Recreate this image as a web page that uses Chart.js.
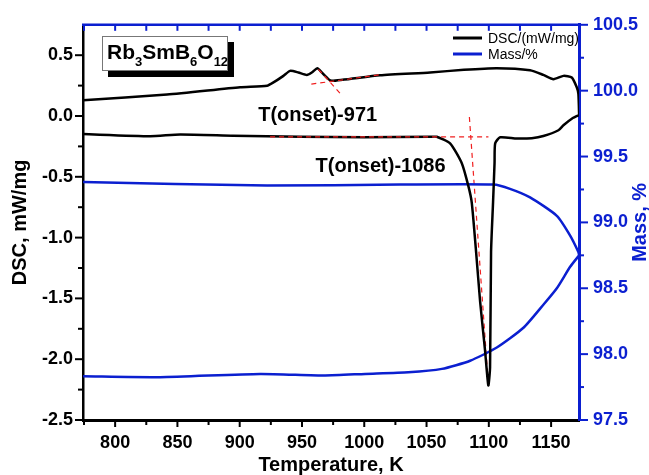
<!DOCTYPE html>
<html>
<head>
<meta charset="utf-8">
<script src="https://cdn.jsdelivr.net/npm/chart.js@4/dist/chart.umd.min.js"></script>
<style>
  html, body { margin: 0; padding: 0; background: #fff; }
</style>
</head>
<body>
<canvas id="chart" width="649" height="475"></canvas>
<script>
// DSC, heating branch (upper trace), temperature in K / mW/mg
const dscHeatT = [774.3, 841.7, 900.3, 922.0, 927.1, 935.1, 940.5, 947.1, 953.9, 957.9, 962.4, 965.9, 971.2, 974.0, 1012.7, 1052.9, 1080.0, 1106.4, 1133.1, 1143.8, 1151.9, 1159.9, 1166.6, 1170.6, 1171.9, 1172.5];
const dscHeat  = [0.130, 0.176, 0.236, 0.249, 0.276, 0.330, 0.371, 0.358, 0.338, 0.358, 0.393, 0.358, 0.303, 0.289, 0.335, 0.358, 0.380, 0.393, 0.376, 0.338, 0.303, 0.330, 0.317, 0.236, 0.181, 0.005];
// DSC, cooling branch (lower trace with the crystallisation peak)
const dscCoolT = [1171.9, 1166.6, 1159.9, 1155.9, 1143.8, 1134.5, 1122.5, 1109.1, 1105.1, 1104.6, 1103.4, 1101.8, 1101.0, 1099.6, 1097.0, 1093.0, 1089.8, 1086.3, 1083.6, 1078.3, 1068.9, 1058.2, 1052.9, 1000.0, 948.5, 894.7, 852.2, 828.1, 774.3];
const dscCool  = [0.005, -0.022, -0.076, -0.117, -0.165, -0.182, -0.185, -0.175, -0.225, -0.387, -0.710, -1.119, -2.067, -2.216, -1.931, -1.525, -1.119, -0.712, -0.577, -0.388, -0.225, -0.171, -0.171, -0.175, -0.171, -0.162, -0.152, -0.166, -0.149];
// Mass, %
const massHeatT = [774.3, 922.0, 1028.8, 1103.7, 1117.0, 1133.1, 1154.6, 1165.3, 1171.9, 1172.5];
const massHeat  = [99.307, 99.280, 99.287, 99.287, 99.255, 99.190, 99.050, 98.900, 98.775, 98.750];
const massCoolT = [1172.5, 1165.3, 1154.6, 1143.8, 1127.8, 1106.4, 1085.0, 1062.3, 1035.4, 1000.7, 968.6, 916.4, 836.1, 774.3];
const massCool  = [98.750, 98.663, 98.500, 98.375, 98.200, 98.050, 97.950, 97.888, 97.862, 97.850, 97.838, 97.850, 97.825, 97.832];

// onset construction lines (red dashed)
const onset971BaseT = [957.5, 1013.0];
const onset971Base  = [0.262, 0.340];
const onset971TanT  = [963.2, 980.6];
const onset971Tan   = [0.384, 0.187];
const onset1086BaseT = [924.4, 1099.7];
const onset1086Base  = [-0.171, -0.171];
const onset1086TanT  = [1084.4, 1099.7];
const onset1086Tan   = [-0.008, -2.216];

// axes ticks
const xTicks  = [775, 800, 825, 850, 875, 900, 925, 950, 975, 1000, 1025, 1050, 1075, 1100, 1125, 1150];
const yTicks  = [-2.5, -2.25, -2.0, -1.75, -1.5, -1.25, -1.0, -0.75, -0.5, -0.25, 0.0, 0.25, 0.5];
const y2Ticks = [97.5, 97.75, 98.0, 98.25, 98.5, 98.75, 99.0, 99.25, 99.5, 99.75, 100.0, 100.25, 100.5];

const seriesNames = ['DSC/(mW/mg)', 'Mass/%'];
const onsetLabels = [
  { text: 'T(onset)-971',  x: 962.6,  y: 0.003 },
  { text: 'T(onset)-1086', x: 1013.1, y: -0.414 }
];

const BLUE = '#0b1fd0';
const RED = '#f02020';
const FF = '"Liberation Sans", Arial, sans-serif';

const pts = (xs, ys) => xs.map((v, i) => ({ x: v, y: ys[i] }));
const isHalf = v => Math.abs(v * 2 - Math.round(v * 2)) < 1e-6;

const dashed = (xs, ys) => ({
  data: pts(xs, ys), yAxisID: 'y', showLine: true, borderColor: RED, borderWidth: 1.2,
  borderDash: [5, 4], pointRadius: 0, tension: 0
});

const decor = {
  id: 'decor',
  afterDraw(chart) {
    const { ctx, chartArea: a, scales: { x, y, y2 } } = chart;
    const line = (x1, y1, x2, yb) => { ctx.beginPath(); ctx.moveTo(x1, y1); ctx.lineTo(x2, yb); ctx.stroke(); };
    ctx.save();

    // top axis, blue, ticks inward
    ctx.strokeStyle = BLUE; ctx.lineWidth = 2.5;
    line(a.left - 1, a.top, a.right + 1, a.top);
    ctx.lineWidth = 2;
    xTicks.forEach(v => { const p = x.getPixelForValue(v); line(p, a.top, p, a.top + 6); });

    // bottom ticks
    ctx.strokeStyle = '#000';
    xTicks.forEach(v => { const p = x.getPixelForValue(v); line(p, a.bottom, p, a.bottom + (v % 50 === 0 ? 7 : 5)); });
    // left ticks
    yTicks.forEach(v => { const p = y.getPixelForValue(v); line(a.left, p, a.left - (isHalf(v) ? 8 : 5), p); });
    // right ticks
    ctx.strokeStyle = BLUE;
    y2Ticks.forEach(v => { const p = y2.getPixelForValue(v); line(a.right, p, a.right + (isHalf(v) ? 9 : 5), p); });

    // right axis title, reading bottom to top
    ctx.save();
    ctx.translate(640, (a.top + a.bottom) / 2);
    ctx.rotate(-Math.PI / 2);
    ctx.fillStyle = BLUE;
    ctx.font = 'bold 20px ' + FF;
    ctx.textAlign = 'center'; ctx.textBaseline = 'middle';
    ctx.fillText('Mass, %', 0, 0);
    ctx.restore();

    // legend
    const colors = ['#000', BLUE];
    ctx.font = '14px ' + FF;
    ctx.textAlign = 'left'; ctx.textBaseline = 'middle';
    seriesNames.forEach((n, i) => {
      const ly = 38 + i * 16;
      ctx.strokeStyle = colors[i]; ctx.lineWidth = 3;
      line(453, ly, 482, ly);
      ctx.fillStyle = '#000';
      ctx.fillText(n, 488, ly + 1);
    });

    // compound label box with shadow
    ctx.fillStyle = '#000';
    ctx.fillRect(108, 42, 126, 35);
    ctx.fillStyle = '#fff';
    ctx.fillRect(102, 36, 126, 35);
    ctx.strokeStyle = '#777'; ctx.lineWidth = 1;
    ctx.strokeRect(102.5, 36.5, 125, 34);
    const parts = [['Rb', 0], ['3', 1], ['Sm', 0], ['B', 0], ['6', 1], ['O', 0], ['12', 1]];
    let tx = 107;
    ctx.fillStyle = '#000';
    ctx.textBaseline = 'alphabetic';
    parts.forEach(([t, sub]) => {
      ctx.font = 'bold ' + (sub ? 13 : 21) + 'px ' + FF;
      ctx.fillText(t, tx, sub ? 66 : 59);
      tx += ctx.measureText(t).width;
    });

    // onset labels
    ctx.font = 'bold 20px ' + FF;
    ctx.textAlign = 'center'; ctx.textBaseline = 'middle';
    onsetLabels.forEach(l => ctx.fillText(l.text, x.getPixelForValue(l.x), y.getPixelForValue(l.y)));

    ctx.restore();
  }
};

new Chart(document.getElementById('chart'), {
  type: 'scatter',
  data: {
    datasets: [
      dashed(onset971BaseT, onset971Base),
      dashed(onset971TanT, onset971Tan),
      dashed(onset1086BaseT, onset1086Base),
      {
        label: seriesNames[0], yAxisID: 'y', showLine: true,
        data: pts(dscHeatT.concat(dscCoolT), dscHeat.concat(dscCool)),
        borderColor: '#000', borderWidth: 2.5, pointRadius: 0, tension: 0.2
      },
      {
        label: seriesNames[1], yAxisID: 'y2', showLine: true,
        data: pts(massHeatT.concat(massCoolT), massHeat.concat(massCool)),
        borderColor: BLUE, borderWidth: 2.5, pointRadius: 0, tension: 0.2
      },
      dashed(onset1086TanT, onset1086Tan)
    ]
  },
  options: {
    responsive: false,
    animation: false,
    layout: { padding: { top: 20, left: 0, right: 0, bottom: 0 } },
    plugins: { legend: { display: false }, tooltip: { enabled: false } },
    scales: {
      x: {
        type: 'linear', position: 'bottom', min: 774.2, max: 1172.4,
        afterBuildTicks: s => { s.ticks = xTicks.map(v => ({ value: v })); },
        afterFit: s => { s.height = 55; },
        grid: { display: false, drawTicks: false },
        border: { display: true, color: '#000', width: 3 },
        ticks: {
          autoSkip: false, maxRotation: 0, padding: 12, color: '#000',
          font: { family: FF, size: 18, weight: 'bold' },
          callback: v => (v % 50 === 0 ? String(v) : '')
        },
        title: {
          display: true, text: 'Temperature, K', color: '#000',
          font: { family: FF, size: 20, weight: 'bold', lineHeight: 1 }, padding: 0
        }
      },
      y: {
        type: 'linear', position: 'left', min: -2.5, max: 0.75,
        afterBuildTicks: s => { s.ticks = yTicks.map(v => ({ value: v })); },
        afterFit: s => { s.width = 83; },
        grid: { display: false, drawTicks: false },
        border: { display: true, color: '#000', width: 2.5 },
        ticks: {
          autoSkip: false, padding: 10, color: '#000',
          font: { family: FF, size: 18, weight: 'bold' },
          callback: v => (isHalf(v) ? v.toFixed(1) : '')
        },
        title: {
          display: true, text: 'DSC, mW/mg', color: '#000',
          font: { family: FF, size: 20, weight: 'bold', lineHeight: 1 }, padding: { top: 10 }
        }
      },
      y2: {
        type: 'linear', position: 'right', min: 97.5, max: 100.5,
        afterBuildTicks: s => { s.ticks = y2Ticks.map(v => ({ value: v })); },
        afterFit: s => { s.width = 70; },
        grid: { display: false, drawTicks: false },
        border: { display: true, color: BLUE, width: 3 },
        ticks: {
          autoSkip: false, padding: 14, color: BLUE,
          font: { family: FF, size: 18, weight: 'bold' },
          callback: v => (isHalf(v) ? v.toFixed(1) : '')
        }
      }
    }
  },
  plugins: [decor]
});
</script>
</body>
</html>
